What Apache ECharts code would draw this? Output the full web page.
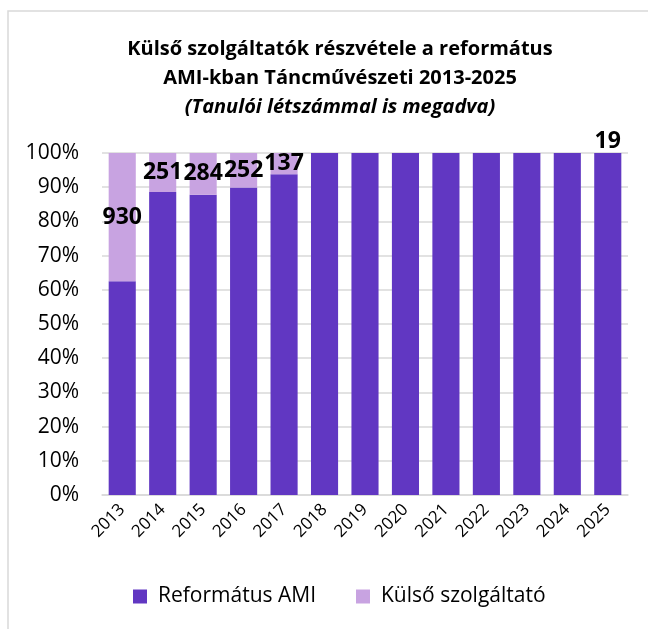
<!DOCTYPE html>
<html>
<head>
<meta charset="utf-8">
<script src="https://cdn.jsdelivr.net/npm/echarts@6/dist/echarts.min.js"></script>
<style>
  html, body { margin: 0; padding: 0; background: #fff; }
  #chart { width: 648px; height: 629px; }
</style>
</head>
<body>
<div id="chart"></div>
<script>
// years on the x axis
const years = ['2013', '2014', '2015', '2016', '2017', '2018', '2019', '2020', '2021', '2022', '2023', '2024', '2025']
// share of students, percent
const reformatusAmi = [62.5, 88.6, 87.8, 89.9, 93.8, 100, 100, 100, 100, 100, 100, 100, 100]
const kulsoSzolg = [37.5, 11.4, 12.2, 10.1, 6.2, 0, 0, 0, 0, 0, 0, 0, 0]
// student counts written on the bars
const letszam = ['930', '251', '284', '252', '137', '', '', '', '', '', '', '', '19']
const yTicks = [0, 10, 20, 30, 40, 50, 60, 70, 80, 90, 100]

const FONT = 'Open Sans'
const DARK = '#6137C2'
const LIGHT = '#C8A3E1'

let chart = echarts.init(document.getElementById('chart'))

let kulsoData = kulsoSzolg.map((v, i) => {
  let item = { value: v }
  if (letszam[i] !== '' && v === 0) {
    item.label = { position: 'top', distance: 0 }
  }
  return item
})

let option = {
  backgroundColor: '#fff',
  animation: false,
  textStyle: { fontFamily: FONT },
  graphic: [{
    type: 'rect',
    shape: { x: 8, y: 11, width: 700, height: 700 },
    style: { fill: 'none', stroke: '#d9d9d9', lineWidth: 1.5 },
    silent: true
  }],
  title: {
    left: 335,
    textAlign: 'center',
    top: 30,
    text: '{b|Külső szolgáltatók részvétele a református}\n{b|AMI-kban Táncművészeti 2013-2025}\n{i|(Tanulói létszámmal is megadva)}',
    textStyle: {
      rich: {
        b: { fontFamily: FONT, fontSize: 20, fontWeight: 'bold', color: '#000', lineHeight: 29 },
        i: { fontFamily: FONT, fontSize: 20, fontWeight: 'bold', fontStyle: 'italic', color: '#000', lineHeight: 29 }
      }
    }
  },
  legend: {
    bottom: 17,
    left: 128,
    icon: 'rect',
    itemWidth: 14,
    itemHeight: 14,
    itemGap: 40,
    textStyle: { fontFamily: FONT, fontSize: 21, color: '#000', padding: [0, 0, 0, 6] },
    data: ['Református AMI', 'Külső szolgáltató']
  },
  grid: { left: 102, right: 20, top: 153, bottom: 134 },
  xAxis: {
    type: 'category',
    data: years,
    axisTick: { show: false },
    axisLine: { lineStyle: { color: '#d9d9d9', width: 1.5 } },
    axisLabel: { rotate: 45, fontSize: 17, color: '#000', margin: 12, fontFamily: FONT }
  },
  yAxis: {
    type: 'value',
    min: yTicks[0],
    max: yTicks[yTicks.length - 1],
    interval: yTicks[1] - yTicks[0],
    axisLabel: { formatter: '{value}%', fontSize: 21, color: '#000', margin: 23, fontFamily: FONT },
    axisLine: { show: false },
    axisTick: { show: false },
    splitLine: { lineStyle: { color: '#d9d9d9', width: 1.5 } }
  },
  series: [
    {
      name: 'Református AMI',
      type: 'bar',
      stack: 'total',
      barCategoryGap: '33%',
      itemStyle: { color: DARK },
      data: reformatusAmi
    },
    {
      name: 'Külső szolgáltató',
      type: 'bar',
      stack: 'total',
      itemStyle: { color: LIGHT },
      label: {
        show: true,
        position: 'inside',
        formatter: p => letszam[p.dataIndex],
        fontFamily: FONT,
        fontSize: 23,
        fontWeight: 'bold',
        color: '#000'
      },
      labelLayout: { hideOverlap: false },
      data: kulsoData
    }
  ]
}

chart.setOption(option)
</script>
</body>
</html>
